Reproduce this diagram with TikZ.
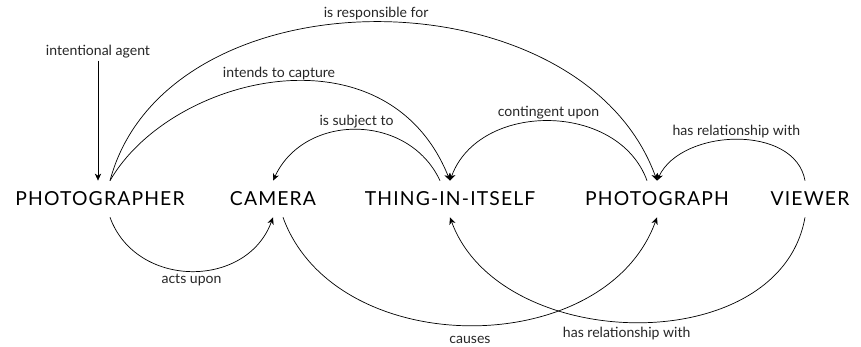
\documentclass[tikz,border=0pt]{standalone}
\usepackage{fontspec}
\setmainfont{Lato}
\usetikzlibrary{arrows.meta}

\tikzset{
  concept/.style={minimum height=0.72cm, inner sep=0pt,
    font=\fontsize{11}{13}\selectfont\addfontfeature{LetterSpace=6}},
  rel/.style={font=\fontsize{8}{9.6}\selectfont, inner sep=1pt, text=black!85},
  link/.style={thin, -{Stealth[length=4pt, width=3.6pt, inset=1.2pt]}}
}

\begin{document}
\begin{tikzpicture}[x=0.02cm, y=0.02cm]
    \useasboundingbox (0,0) rectangle (861,347);

    \foreach \name/\x/\txt in {ph/100/PHOTOGRAPHER, ca/273/CAMERA,
        th/450/THING-IN-ITSELF, pg/657/PHOTOGRAPH, vi/810/VIEWER} {
      \node[concept] (\name) at (\x, 148) {\txt};
    }

    \node[rel] (agent) at (98, 295) {intentional agent};
    \draw[link] (agent.south) -- (agent.south |- ph.north);

    % Links above the concepts
    \draw[link] ([xshift=0.2cm]ph.north) to[out=75,in=110,
        out looseness=1.03,in looseness=1.05]
      node[rel, above] (resp) {is responsible for} (pg.north);
    \draw[link] ([xshift=0.2cm]ph.north) to[out=60,in=112,
        out looseness=0.92,in looseness=1.28]
      node[rel, above] (intends) {intends to capture} (th.north);
    \draw[link] ([xshift=-0.2cm]th.north) to[out=115,in=65,looseness=1.15]
      node[rel, above] (subject) {is subject to} (ca.north);
    \draw[link] ([xshift=-0.2cm]pg.north) to[out=110,in=70,looseness=1.1]
      node[rel, above] (contingent) {contingent upon} (th.north);
    \draw[link] ([xshift=-0.1cm]vi.north) to[out=100,in=65]
      node[rel, above] (relA) {has relationship with} (pg.north);

    % Links below the concepts
    \draw[link] ([xshift=0.2cm]ph.south) to[out=-70,in=-110,looseness=1.2]
      node[rel, below=0.5pt] (acts) {acts upon} (ca.south);
    \draw[link] ([xshift=0.2cm]ca.south) to[out=-70,in=-110,looseness=1.05]
      node[rel, below=5pt] (causes) {causes} (pg.south);
    \draw[link] ([xshift=-0.1cm]vi.south) to[out=-100,in=-70,looseness=1.05]
      node[rel, below=1.5pt, xshift=-0.2cm] (relB) {has relationship with} (th.south);

  \end{tikzpicture}
\end{document}
